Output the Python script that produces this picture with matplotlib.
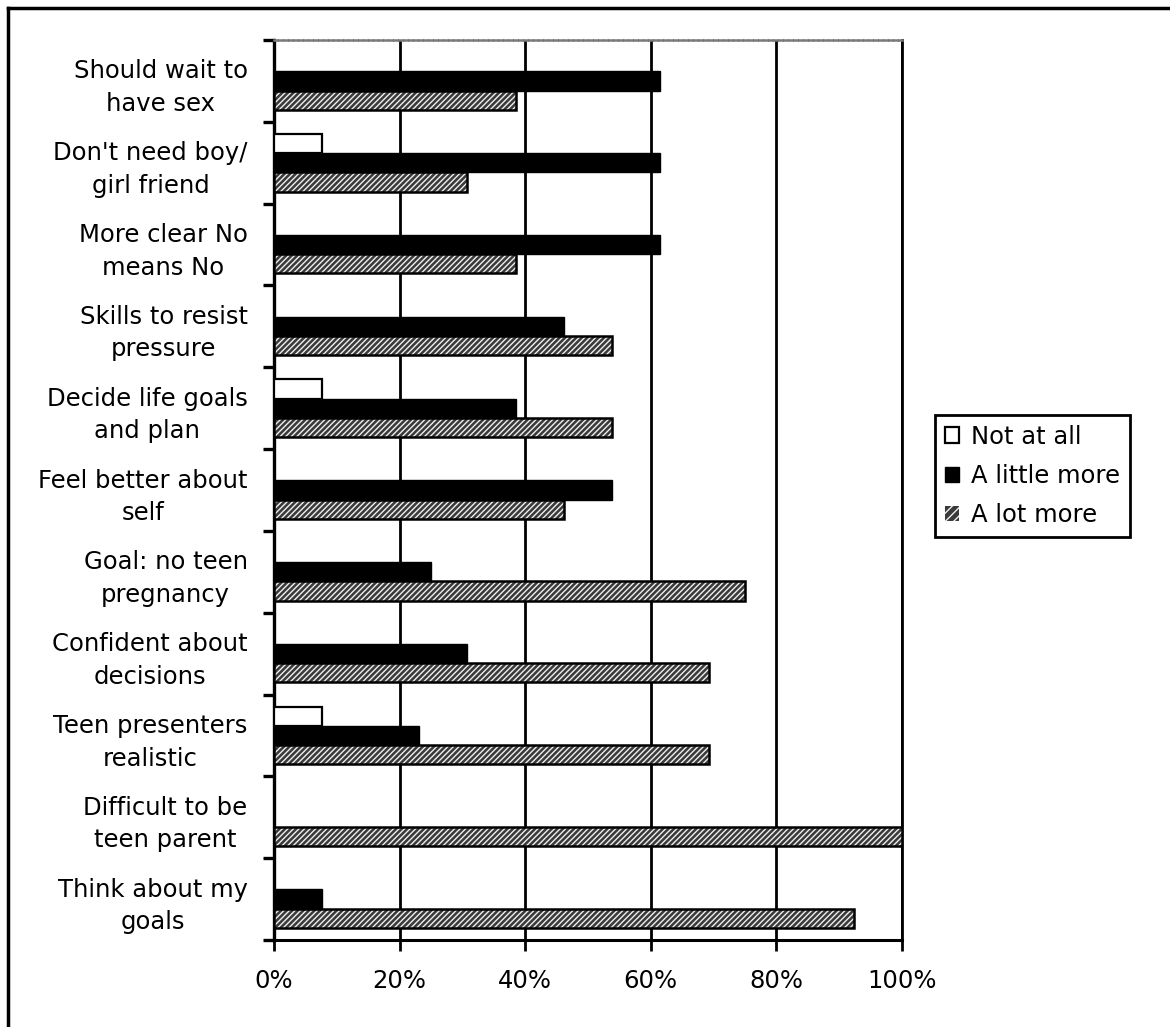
import matplotlib
matplotlib.use("Agg")
import matplotlib.pyplot as plt
import numpy as np
from matplotlib.patches import Patch
from matplotlib.lines import Line2D

plt.rcParams['font.family'] = ['DejaVu Sans']
plt.rcParams['hatch.linewidth'] = 1.0

statements = [
    "Should wait to\nhave sex",
    "Don't need boy/\ngirl friend",
    "More clear No\nmeans No",
    "Skills to resist\npressure",
    "Decide life goals\nand plan",
    "Feel better about\nself",
    "Goal: no teen\npregnancy",
    "Confident about\ndecisions",
    "Teen presenters\nrealistic",
    "Difficult to be\nteen parent",
    "Think about my\ngoals",
]

# percent of respondents per answer
not_at_all = [0, 7.7, 0, 0, 7.7, 0, 0, 0, 7.7, 0, 0]
a_little_more = [61.5, 61.5, 61.5, 46.2, 38.5, 53.8, 25.0, 30.8, 23.1, 0, 7.7]
a_lot_more = [38.5, 30.8, 38.5, 53.8, 53.8, 46.2, 75.0, 69.2, 69.2, 100, 92.3]

series_names = ["Not at all", "A little more", "A lot more"]
x_ticks = [0, 20, 40, 60, 80, 100]

W, H = 1170, 1027
fig = plt.figure(figsize=(W / 100, H / 100), dpi=100)
ax = fig.add_axes([274 / W, 1 - 940 / H, (902 - 274) / W, (940 - 40) / H])

y = np.arange(len(statements))
h = 0.235
lot_face = '#3a3a3a'
lot_hatch_color = '#eeeeee'
fs = 17.5

ax.barh(y - h, not_at_all, height=h, color='white', edgecolor='black', linewidth=1.6, zorder=3)
ax.barh(y, a_little_more, height=h, color='black', edgecolor='black', linewidth=1.0, zorder=3)
ax.barh(y + h, a_lot_more, height=h, color=lot_face, edgecolor=lot_hatch_color, hatch='//////',
        linewidth=0, zorder=3)
ax.barh(y + h, a_lot_more, height=h, color='none', edgecolor='black', linewidth=1.8, zorder=4)

ax.set_xlim(0, 100)
ax.set_ylim(len(statements) - 0.5, -0.5)

ax.set_xticks(x_ticks)
ax.set_xticklabels([f"{t}%" for t in x_ticks], fontsize=fs)
ax.set_yticks(y)
ax.set_yticklabels(statements, fontsize=fs, multialignment='center', linespacing=1.45)
ax.set_yticks(np.arange(len(statements) + 1) - 0.5, minor=True)

ax.tick_params(axis='y', which='major', length=0, pad=19)
ax.tick_params(axis='y', which='minor', length=8, width=2.4, direction='out', color='black')
ax.tick_params(axis='x', which='major', length=8, width=2, direction='out', pad=13)

ax.xaxis.grid(True, color='black', linewidth=2)
ax.set_axisbelow(True)

ax.spines['left'].set_linewidth(2.4)
ax.spines['bottom'].set_linewidth(2.2)
ax.spines['right'].set_linewidth(2)
ax.spines['top'].set_color('#7a7a7a')
ax.spines['top'].set_linewidth(1.8)
ax.spines['top'].set_linestyle((0, (1.2, 0.8)))

handles = [
    Patch(facecolor='white', edgecolor='black', linewidth=1.6),
    Patch(facecolor='black', edgecolor='black', linewidth=1.0),
    Patch(facecolor=lot_face, edgecolor=lot_hatch_color, hatch='////', linewidth=0),
]
leg = fig.legend(handles, series_names, loc='upper left',
                 bbox_to_anchor=(935 / W, 1 - 415 / H), bbox_transform=fig.transFigure,
                 fontsize=fs, frameon=True, fancybox=False, borderaxespad=0,
                 handlelength=0.6, handleheight=0.6, handletextpad=0.5,
                 labelspacing=0.62, borderpad=0.4)
leg.get_frame().set_edgecolor('black')
leg.get_frame().set_linewidth(2)
leg.get_frame().set_alpha(1)

# outer frame of the chart sheet
fig.add_artist(Line2D([8 / W, 8 / W], [0, 1 - 8 / H], transform=fig.transFigure,
                      color='black', linewidth=2.5))
fig.add_artist(Line2D([8 / W, 1], [1 - 8 / H, 1 - 8 / H], transform=fig.transFigure,
                      color='black', linewidth=2.5))

fig.savefig("out.png", dpi=100)
